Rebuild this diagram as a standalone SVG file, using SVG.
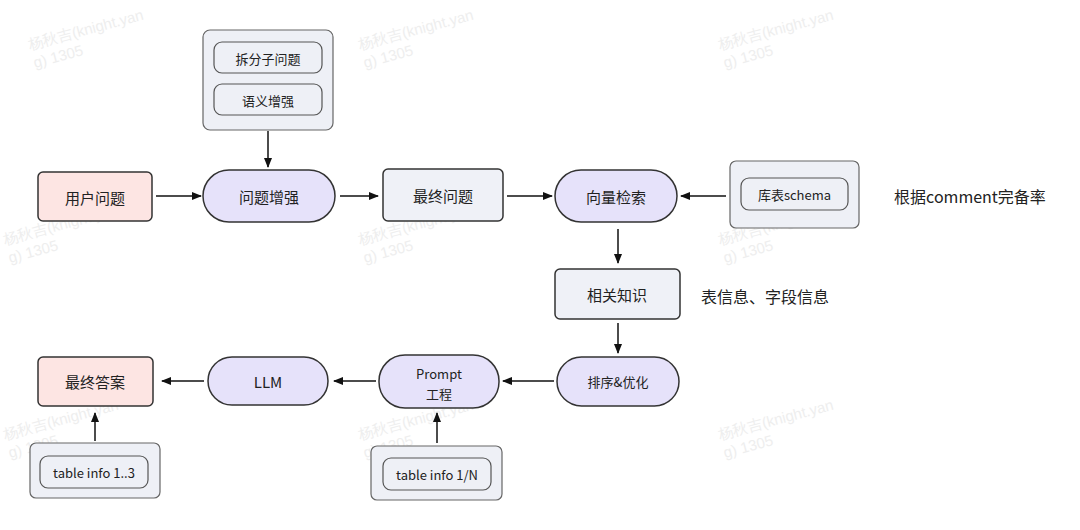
<svg xmlns="http://www.w3.org/2000/svg" width="1080" height="530" viewBox="0 0 1080 530">
<defs>
<marker id="ah" markerWidth="10" markerHeight="10" refX="9" refY="5" orient="auto" markerUnits="userSpaceOnUse"><path d="M0,1 L10,5 L0,9 Z" fill="#111"/></marker>
<style>
.t{font-family:"Noto Sans CJK SC","Noto Sans",sans-serif;font-size:15px;fill:#222;text-anchor:middle;dominant-baseline:central}
.s{font-size:13px}
.b{font-size:16px}
.p{fill:#fde5e3;stroke:#333;stroke-width:1.5}
.v{fill:#e6e2fa;stroke:#333;stroke-width:1.5}
.g{fill:#eff1f7;stroke:#333;stroke-width:1.5}
.c{fill:#eef0f6;stroke:#666;stroke-width:1.2}
.i{fill:#eef0f6;stroke:#555;stroke-width:1.2}
.l{stroke:#111;stroke-width:1.5;fill:none;marker-end:url(#ah)}
.w{font-family:"Liberation Sans",sans-serif;font-size:15px;fill:#eeeeee}
</style>
</defs>
<rect width="1080" height="530" fill="#fff"/>
<g id="watermarks">
<text class="w" transform="translate(30,50) rotate(-15)">杨秋吉(knight.yan</text><text class="w" transform="translate(35,68) rotate(-15)">g) 1305</text>
<text class="w" transform="translate(360,50) rotate(-15)">杨秋吉(knight.yan</text><text class="w" transform="translate(365,68) rotate(-15)">g) 1305</text>
<text class="w" transform="translate(720,50) rotate(-15)">杨秋吉(knight.yan</text><text class="w" transform="translate(725,68) rotate(-15)">g) 1305</text>
<text class="w" transform="translate(5,245) rotate(-15)">杨秋吉(knight.yan</text><text class="w" transform="translate(10,263) rotate(-15)">g) 1305</text>
<text class="w" transform="translate(360,245) rotate(-15)">杨秋吉(knight.yan</text><text class="w" transform="translate(365,263) rotate(-15)">g) 1305</text>
<text class="w" transform="translate(720,245) rotate(-15)">杨秋吉(knight.yan</text><text class="w" transform="translate(725,263) rotate(-15)">g) 1305</text>
<text class="w" transform="translate(5,440) rotate(-15)">杨秋吉(knight.yan</text><text class="w" transform="translate(10,458) rotate(-15)">g) 1305</text>
<text class="w" transform="translate(360,440) rotate(-15)">杨秋吉(knight.yan</text><text class="w" transform="translate(365,458) rotate(-15)">g) 1305</text>
<text class="w" transform="translate(720,440) rotate(-15)">杨秋吉(knight.yan</text><text class="w" transform="translate(725,458) rotate(-15)">g) 1305</text>
</g>
<g id="connectors">
<path class="l" d="M268,131 V167"/>
<path class="l" d="M156,196 H201"/>
<path class="l" d="M340,196 H378"/>
<path class="l" d="M507,196 H552"/>
<path class="l" d="M726,196 H681"/>
<path class="l" d="M618,229 V263"/>
<path class="l" d="M618,323 V353"/>
<path class="l" d="M554,381 H503"/>
<path class="l" d="M376,381 H334"/>
<path class="l" d="M204,381 H162"/>
<path class="l" d="M95,441 V413"/>
<path class="l" d="M437,443 V413"/>
</g>
<g id="enhanceGroup"><rect class="c" x="203" y="30" width="130" height="100" rx="7"/>
<rect class="i" x="214" y="42" width="108" height="31" rx="8"/><text class="t s" x="268" y="58">拆分子问题</text>
<rect class="i" x="214" y="84" width="108" height="31" rx="8"/><text class="t s" x="268" y="100">语义增强</text></g>
<g id="userQ"><rect class="p" x="38" y="172" width="114" height="49" rx="5"/><text class="t" x="95" y="197">用户问题</text></g>
<g id="enhance"><rect class="v" x="203" y="170" width="132" height="52" rx="26"/><text class="t" x="269" y="196">问题增强</text></g>
<g id="finalQ"><rect class="g" x="383" y="169" width="120" height="52" rx="5"/><text class="t" x="443" y="195">最终问题</text></g>
<g id="vector"><rect class="v" x="555" y="170" width="122" height="52" rx="26"/><text class="t" x="616" y="196">向量检索</text></g>
<g id="schema"><rect class="c" x="730" y="161" width="129" height="67" rx="6"/>
<rect class="i" x="741" y="178" width="107" height="32" rx="8"/><text class="t s" x="794.5" y="194">库表schema</text></g>
<text class="t b" x="970" y="196">根据comment完备率</text>
<g id="knowledge"><rect class="g" x="555" y="269" width="125" height="50" rx="5"/><text class="t" x="617" y="294">相关知识</text></g>
<text class="t b" x="765" y="296">表信息、字段信息</text>
<g id="rank"><rect class="v" x="557" y="357" width="122" height="49" rx="24.5"/><text class="t s" x="618" y="381">排序&amp;优化</text></g>
<g id="prompt"><rect class="v" x="379" y="355" width="120" height="53" rx="26"/><text class="t s" x="439" y="373">Prompt</text><text class="t s" x="439" y="393">工程</text></g>
<g id="llm"><rect class="v" x="208" y="357" width="120" height="48" rx="24"/><text class="t" x="268" y="381">LLM</text></g>
<g id="answer"><rect class="p" x="38" y="357" width="115" height="49" rx="5"/><text class="t" x="95" y="381">最终答案</text></g>
<g id="info13"><rect class="c" x="30" y="443" width="130" height="55" rx="6"/>
<rect class="i" x="40" y="456" width="108" height="32" rx="8"/><text class="t s" x="94" y="472">table info 1..3</text></g>
<g id="info1N"><rect class="c" x="371" y="446" width="131" height="54" rx="6"/>
<rect class="i" x="383" y="458" width="108" height="32" rx="8"/><text class="t s" x="437" y="474">table info 1/N</text></g>
</svg>
